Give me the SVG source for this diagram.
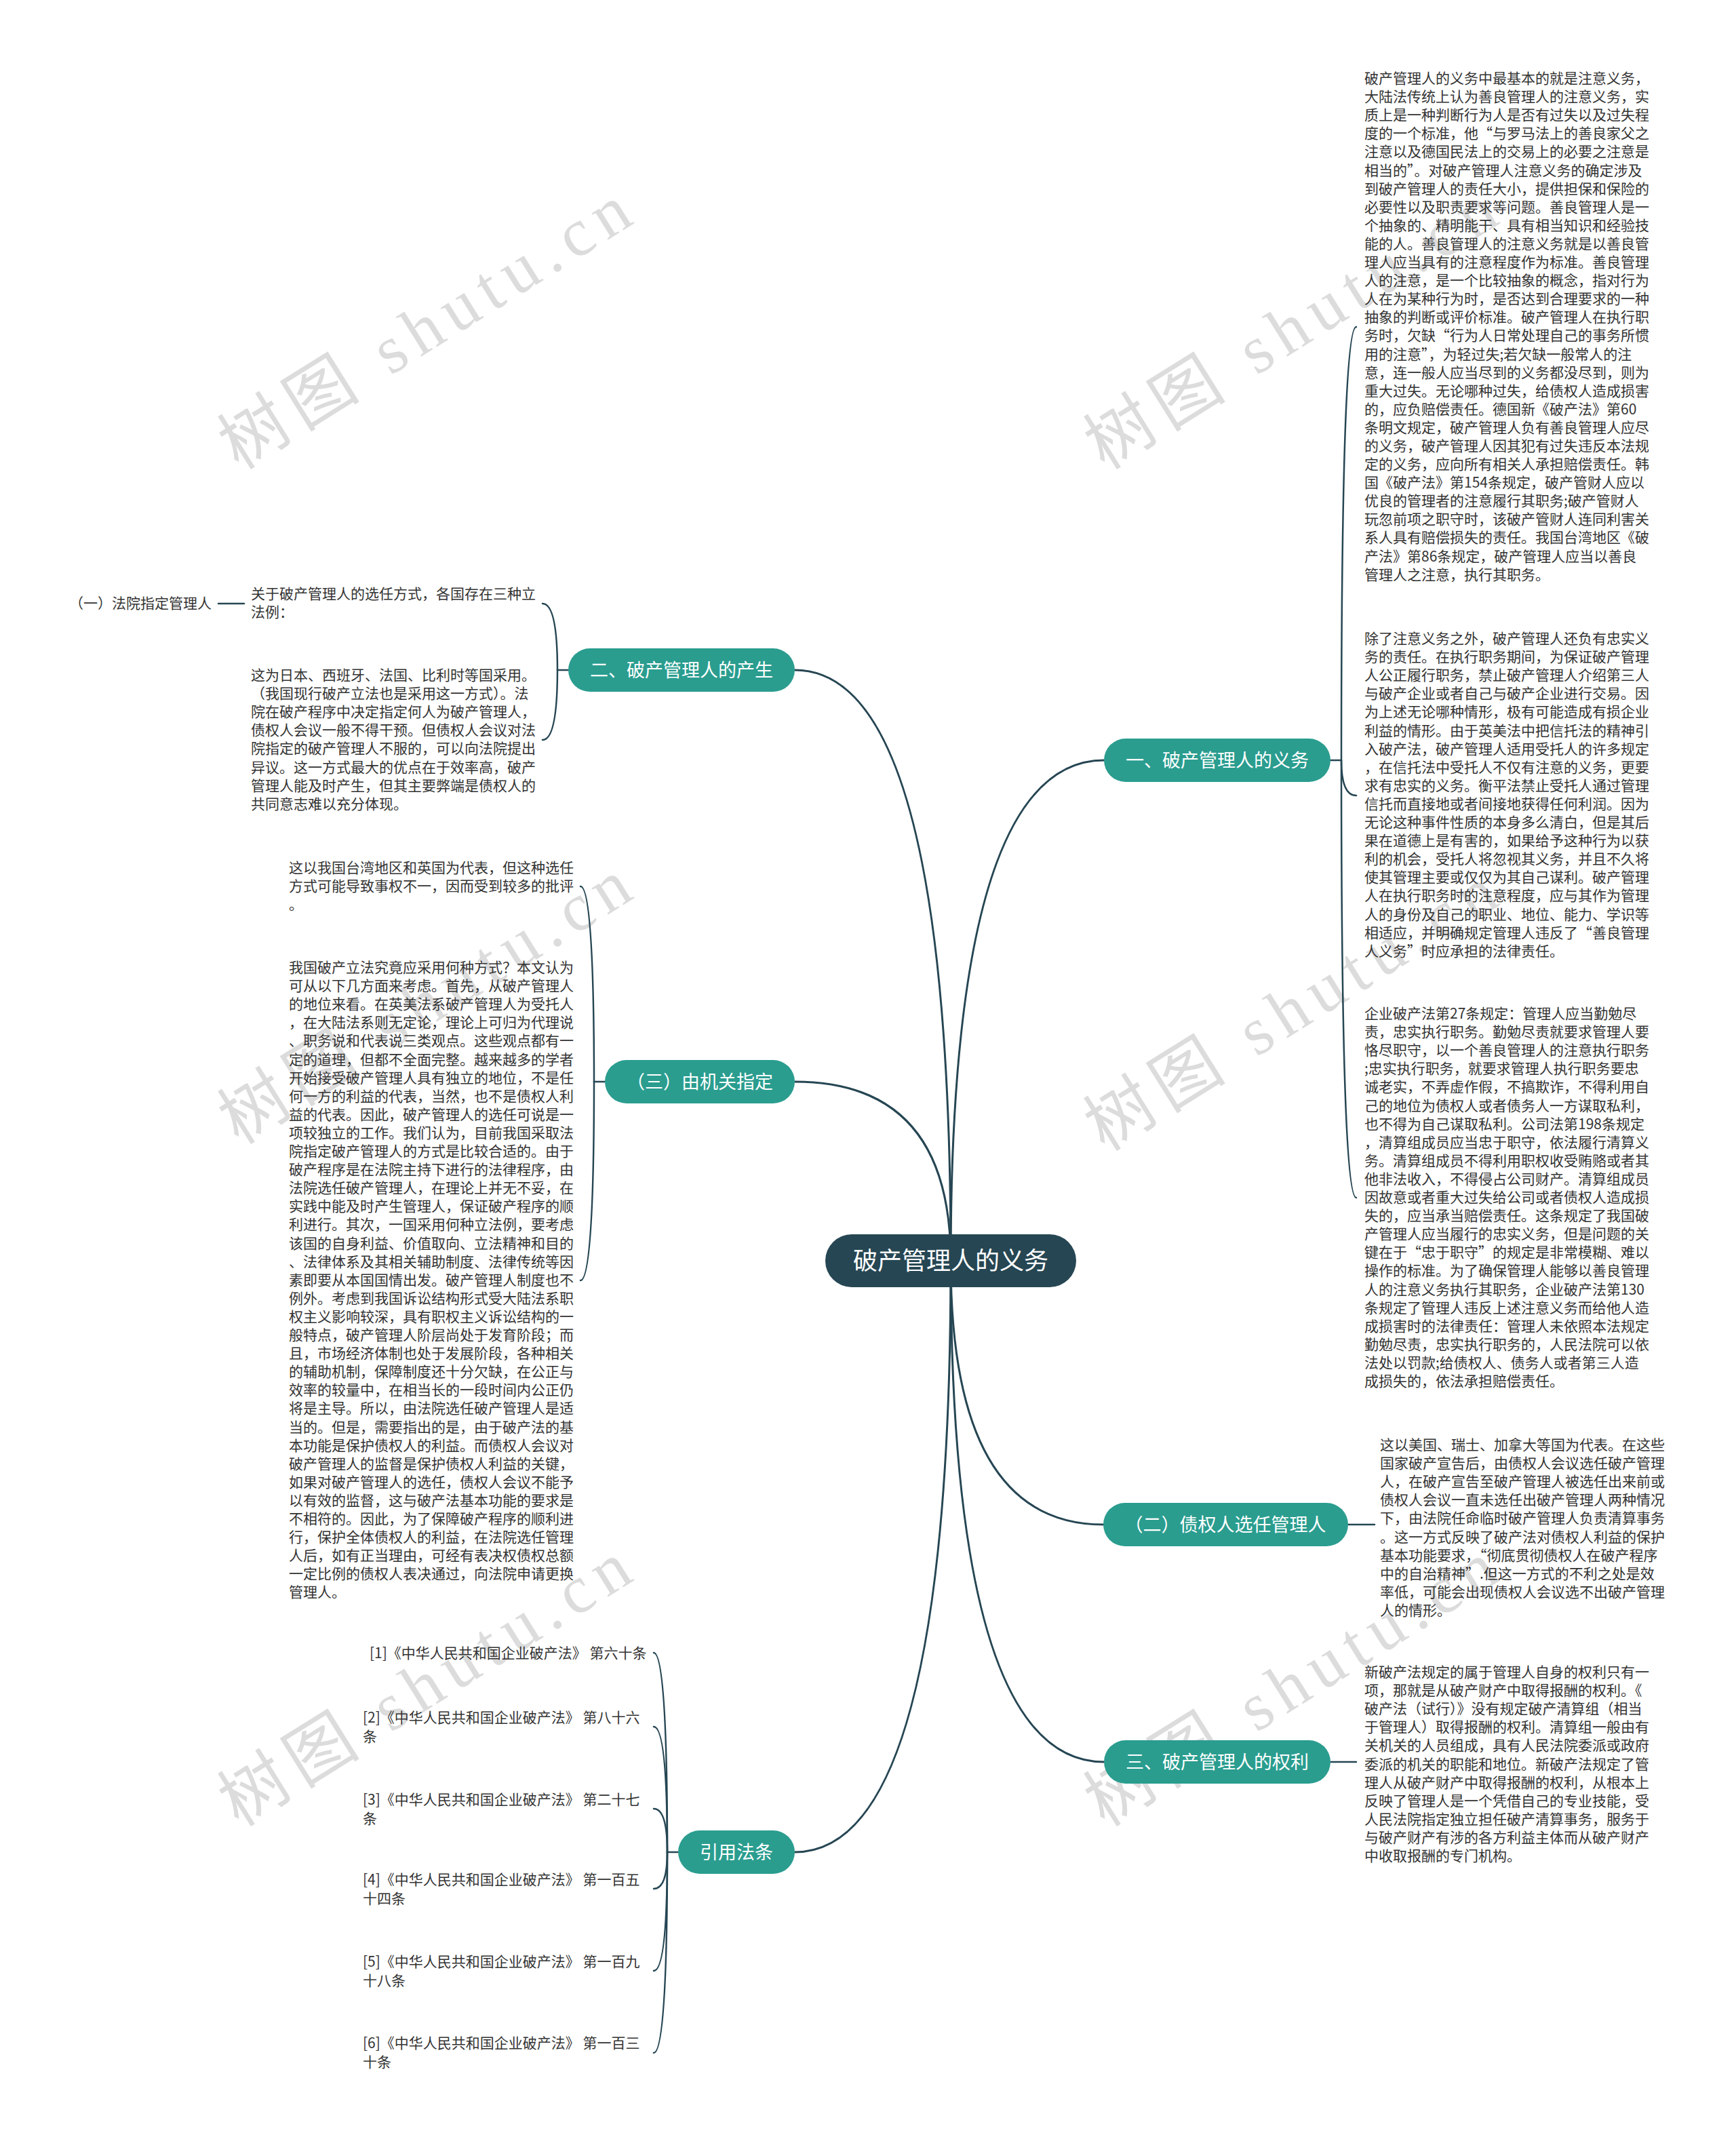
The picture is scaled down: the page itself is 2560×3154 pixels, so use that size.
<svg xmlns="http://www.w3.org/2000/svg" width="2560" height="3154" viewBox="0 0 2560 3154">
<style>
.wm{font-family:"Liberation Serif","Noto Sans CJK SC",serif;font-size:100px;fill:#dcdcdc}
.t{font-family:"Noto Sans CJK SC","Noto Sans",sans-serif;font-size:21px;fill:#333}
.nb{fill:#2a9d8f}
.nt{font-family:"Noto Sans CJK SC","Noto Sans",sans-serif;font-size:27px;fill:#fff;text-anchor:middle}
.ct{font-family:"Noto Sans CJK SC","Noto Sans",sans-serif;font-size:36px;fill:#fff;text-anchor:middle}
.c{fill:none;stroke:#264653;stroke-width:3;stroke-linecap:round}
.b{fill:none;stroke:#264653;stroke-width:2.5;stroke-linecap:round}
</style>
<rect width="2560" height="3154" fill="#fff"/>
<g id="watermarks">
<text class="wm" transform="translate(352,694) rotate(-32)" textLength="690" lengthAdjust="spacing">树图 shutu.cn</text>
<text class="wm" transform="translate(1629,694) rotate(-32)" textLength="690" lengthAdjust="spacing">树图 shutu.cn</text>
<text class="wm" transform="translate(352,1689) rotate(-32)" textLength="690" lengthAdjust="spacing">树图 shutu.cn</text>
<text class="wm" transform="translate(1629,1699) rotate(-32)" textLength="690" lengthAdjust="spacing">树图 shutu.cn</text>
<text class="wm" transform="translate(352,2695) rotate(-32)" textLength="690" lengthAdjust="spacing">树图 shutu.cn</text>
<text class="wm" transform="translate(1629,2695) rotate(-32)" textLength="690" lengthAdjust="spacing">树图 shutu.cn</text>
</g>
<g id="connectors">
<path class="c" d="M1402,1859 Q1402,1121 1628,1121"/>
<path class="c" d="M1402,1859 Q1402,2248 1627,2248"/>
<path class="c" d="M1402,1859 Q1402,2598 1628,2598"/>
<path class="c" d="M1402,1859 Q1402,988 1172,988"/>
<path class="c" d="M1402,1859 Q1402,1595 1172,1595"/>
<path class="c" d="M1402,1859 Q1402,2731 1172,2731"/>
<path class="b" d="M1962,1121 L1978,1121"/>
<path class="b" d="M1978,1121 Q1978,482 2000,482"/>
<path class="b" d="M1978,1121 Q1978,1173 2000,1173"/>
<path class="b" d="M1978,1121 Q1978,1766 2000,1766"/>
<path class="b" d="M1988,2248 L2027,2248"/>
<path class="b" d="M1962,2598 L2000,2598"/>
<path class="b" d="M838,988 L822,988"/>
<path class="b" d="M822,988 Q822,890 800,890"/>
<path class="b" d="M822,988 Q822,1091 800,1091"/>
<path class="b" d="M360,890 L322,890"/>
<path class="b" d="M892,1595 L876,1595"/>
<path class="b" d="M876,1595 Q876,1307 856,1307"/>
<path class="b" d="M876,1595 Q876,1888 856,1888"/>
<path class="b" d="M1000,2731 L984,2731"/>
<path class="b" d="M984,2731 Q984,2437 964,2437"/>
<path class="b" d="M984,2731 Q984,2546 964,2546"/>
<path class="b" d="M984,2731 Q984,2667 964,2667"/>
<path class="b" d="M984,2731 Q984,2785 964,2785"/>
<path class="b" d="M984,2731 Q984,2906 964,2906"/>
<path class="b" d="M984,2731 Q984,3027 964,3027"/>
</g>
<g id="center">
<rect x="1217" y="1820" width="370" height="78" rx="39" fill="#264653"/>
<text class="ct" x="1402" y="1872">破产管理人的义务</text>
</g>
<g id="n1">
<rect class="nb" x="1628" y="1089" width="334" height="64" rx="32"/>
<text class="nt" x="1795" y="1131">一、破产管理人的义务</text>
</g>
<g id="n2">
<rect class="nb" x="1627" y="2216" width="361" height="64" rx="32"/>
<text class="nt" x="1807" y="2258">（二）债权人选任管理人</text>
</g>
<g id="n3">
<rect class="nb" x="1628" y="2566" width="334" height="64" rx="32"/>
<text class="nt" x="1795" y="2608">三、破产管理人的权利</text>
</g>
<g id="n4">
<rect class="nb" x="838" y="956" width="334" height="64" rx="32"/>
<text class="nt" x="1005" y="998">二、破产管理人的产生</text>
</g>
<g id="n5">
<rect class="nb" x="892" y="1563" width="280" height="64" rx="32"/>
<text class="nt" x="1032" y="1605">（三）由机关指定</text>
</g>
<g id="n6">
<rect class="nb" x="1000" y="2699" width="172" height="64" rx="32"/>
<text class="nt" x="1086" y="2741">引用法条</text>
</g>
<g id="r1">
<text class="t" x="2012" y="123"><tspan x="2012">破产管理人的义务中最基本的就是注意义务，</tspan><tspan x="2012" dy="27.1">大陆法传统上认为善良管理人的注意义务，实</tspan><tspan x="2012" dy="27.1">质上是一种判断行为人是否有过失以及过失程</tspan><tspan x="2012" dy="27.1">度的一个标准，他“与罗马法上的善良家父之</tspan><tspan x="2012" dy="27.1">注意以及德国民法上的交易上的必要之注意是</tspan><tspan x="2012" dy="27.1">相当的”。对破产管理人注意义务的确定涉及</tspan><tspan x="2012" dy="27.1">到破产管理人的责任大小，提供担保和保险的</tspan><tspan x="2012" dy="27.1">必要性以及职责要求等问题。善良管理人是一</tspan><tspan x="2012" dy="27.1">个抽象的、精明能干、具有相当知识和经验技</tspan><tspan x="2012" dy="27.1">能的人。善良管理人的注意义务就是以善良管</tspan><tspan x="2012" dy="27.1">理人应当具有的注意程度作为标准。善良管理</tspan><tspan x="2012" dy="27.1">人的注意，是一个比较抽象的概念，指对行为</tspan><tspan x="2012" dy="27.1">人在为某种行为时，是否达到合理要求的一种</tspan><tspan x="2012" dy="27.1">抽象的判断或评价标准。破产管理人在执行职</tspan><tspan x="2012" dy="27.1">务时，欠缺“行为人日常处理自己的事务所惯</tspan><tspan x="2012" dy="27.1">用的注意”，为轻过失;若欠缺一般常人的注</tspan><tspan x="2012" dy="27.1">意，连一般人应当尽到的义务都没尽到，则为</tspan><tspan x="2012" dy="27.1">重大过失。无论哪种过失，给债权人造成损害</tspan><tspan x="2012" dy="27.1">的，应负赔偿责任。德国新《破产法》第60</tspan><tspan x="2012" dy="27.1">条明文规定，破产管理人负有善良管理人应尽</tspan><tspan x="2012" dy="27.1">的义务，破产管理人因其犯有过失违反本法规</tspan><tspan x="2012" dy="27.1">定的义务，应向所有相关人承担赔偿责任。韩</tspan><tspan x="2012" dy="27.1">国《破产法》第154条规定，破产管财人应以</tspan><tspan x="2012" dy="27.1">优良的管理者的注意履行其职务;破产管财人</tspan><tspan x="2012" dy="27.1">玩忽前项之职守时，该破产管财人连同利害关</tspan><tspan x="2012" dy="27.1">系人具有赔偿损失的责任。我国台湾地区《破</tspan><tspan x="2012" dy="27.1">产法》第86条规定，破产管理人应当以善良</tspan><tspan x="2012" dy="27.1">管理人之注意，执行其职务。</tspan></text>
</g>
<g id="r2">
<text class="t" x="2012" y="949"><tspan x="2012">除了注意义务之外，破产管理人还负有忠实义</tspan><tspan x="2012" dy="27.1">务的责任。在执行职务期间，为保证破产管理</tspan><tspan x="2012" dy="27.1">人公正履行职务，禁止破产管理人介绍第三人</tspan><tspan x="2012" dy="27.1">与破产企业或者自己与破产企业进行交易。因</tspan><tspan x="2012" dy="27.1">为上述无论哪种情形，极有可能造成有损企业</tspan><tspan x="2012" dy="27.1">利益的情形。由于英美法中把信托法的精神引</tspan><tspan x="2012" dy="27.1">入破产法，破产管理人适用受托人的许多规定</tspan><tspan x="2012" dy="27.1">，在信托法中受托人不仅有注意的义务，更要</tspan><tspan x="2012" dy="27.1">求有忠实的义务。衡平法禁止受托人通过管理</tspan><tspan x="2012" dy="27.1">信托而直接地或者间接地获得任何利润。因为</tspan><tspan x="2012" dy="27.1">无论这种事件性质的本身多么清白，但是其后</tspan><tspan x="2012" dy="27.1">果在道德上是有害的，如果给予这种行为以获</tspan><tspan x="2012" dy="27.1">利的机会，受托人将忽视其义务，并且不久将</tspan><tspan x="2012" dy="27.1">使其管理主要或仅仅为其自己谋利。破产管理</tspan><tspan x="2012" dy="27.1">人在执行职务时的注意程度，应与其作为管理</tspan><tspan x="2012" dy="27.1">人的身份及自己的职业、地位、能力、学识等</tspan><tspan x="2012" dy="27.1">相适应，并明确规定管理人违反了“善良管理</tspan><tspan x="2012" dy="27.1">人义务”时应承担的法律责任。</tspan></text>
</g>
<g id="r3">
<text class="t" x="2012" y="1502"><tspan x="2012">企业破产法第27条规定：管理人应当勤勉尽</tspan><tspan x="2012" dy="27.1">责，忠实执行职务。勤勉尽责就要求管理人要</tspan><tspan x="2012" dy="27.1">恪尽职守，以一个善良管理人的注意执行职务</tspan><tspan x="2012" dy="27.1">;忠实执行职务，就要求管理人执行职务要忠</tspan><tspan x="2012" dy="27.1">诚老实，不弄虚作假，不搞欺诈，不得利用自</tspan><tspan x="2012" dy="27.1">己的地位为债权人或者债务人一方谋取私利，</tspan><tspan x="2012" dy="27.1">也不得为自己谋取私利。公司法第198条规定</tspan><tspan x="2012" dy="27.1">，清算组成员应当忠于职守，依法履行清算义</tspan><tspan x="2012" dy="27.1">务。清算组成员不得利用职权收受贿赂或者其</tspan><tspan x="2012" dy="27.1">他非法收入，不得侵占公司财产。清算组成员</tspan><tspan x="2012" dy="27.1">因故意或者重大过失给公司或者债权人造成损</tspan><tspan x="2012" dy="27.1">失的，应当承当赔偿责任。这条规定了我国破</tspan><tspan x="2012" dy="27.1">产管理人应当履行的忠实义务，但是问题的关</tspan><tspan x="2012" dy="27.1">键在于“忠于职守”的规定是非常模糊、难以</tspan><tspan x="2012" dy="27.1">操作的标准。为了确保管理人能够以善良管理</tspan><tspan x="2012" dy="27.1">人的注意义务执行其职务，企业破产法第130</tspan><tspan x="2012" dy="27.1">条规定了管理人违反上述注意义务而给他人造</tspan><tspan x="2012" dy="27.1">成损害时的法律责任：管理人未依照本法规定</tspan><tspan x="2012" dy="27.1">勤勉尽责，忠实执行职务的，人民法院可以依</tspan><tspan x="2012" dy="27.1">法处以罚款;给债权人、债务人或者第三人造</tspan><tspan x="2012" dy="27.1">成损失的，依法承担赔偿责任。</tspan></text>
</g>
<g id="r4">
<text class="t" x="2035" y="2138"><tspan x="2035">这以美国、瑞士、加拿大等国为代表。在这些</tspan><tspan x="2035" dy="27.1">国家破产宣告后，由债权人会议选任破产管理</tspan><tspan x="2035" dy="27.1">人，在破产宣告至破产管理人被选任出来前或</tspan><tspan x="2035" dy="27.1">债权人会议一直未选任出破产管理人两种情况</tspan><tspan x="2035" dy="27.1">下，由法院任命临时破产管理人负责清算事务</tspan><tspan x="2035" dy="27.1">。这一方式反映了破产法对债权人利益的保护</tspan><tspan x="2035" dy="27.1">基本功能要求，“彻底贯彻债权人在破产程序</tspan><tspan x="2035" dy="27.1">中的自治精神”.但这一方式的不利之处是效</tspan><tspan x="2035" dy="27.1">率低，可能会出现债权人会议选不出破产管理</tspan><tspan x="2035" dy="27.1">人的情形。</tspan></text>
</g>
<g id="r5">
<text class="t" x="2012" y="2473"><tspan x="2012">新破产法规定的属于管理人自身的权利只有一</tspan><tspan x="2012" dy="27.1">项，那就是从破产财产中取得报酬的权利。《</tspan><tspan x="2012" dy="27.1">破产法（试行）》没有规定破产清算组（相当</tspan><tspan x="2012" dy="27.1">于管理人）取得报酬的权利。清算组一般由有</tspan><tspan x="2012" dy="27.1">关机关的人员组成，具有人民法院委派或政府</tspan><tspan x="2012" dy="27.1">委派的机关的职能和地位。新破产法规定了管</tspan><tspan x="2012" dy="27.1">理人从破产财产中取得报酬的权利，从根本上</tspan><tspan x="2012" dy="27.1">反映了管理人是一个凭借自己的专业技能，受</tspan><tspan x="2012" dy="27.1">人民法院指定独立担任破产清算事务，服务于</tspan><tspan x="2012" dy="27.1">与破产财产有涉的各方利益主体而从破产财产</tspan><tspan x="2012" dy="27.1">中收取报酬的专门机构。</tspan></text>
</g>
<g id="lA">
<text class="t" x="370" y="883"><tspan x="370">关于破产管理人的选任方式，各国存在三种立</tspan><tspan x="370" dy="27.1">法例：</tspan></text>
</g>
<g id="lA1">
<text class="t" x="312" y="897" text-anchor="end">（一）法院指定管理人</text>
</g>
<g id="lB">
<text class="t" x="370" y="1003"><tspan x="370">这为日本、西班牙、法国、比利时等国采用。</tspan><tspan x="370" dy="27.1">（我国现行破产立法也是采用这一方式）。法</tspan><tspan x="370" dy="27.1">院在破产程序中决定指定何人为破产管理人，</tspan><tspan x="370" dy="27.1">债权人会议一般不得干预。但债权人会议对法</tspan><tspan x="370" dy="27.1">院指定的破产管理人不服的，可以向法院提出</tspan><tspan x="370" dy="27.1">异议。这一方式最大的优点在于效率高，破产</tspan><tspan x="370" dy="27.1">管理人能及时产生，但其主要弊端是债权人的</tspan><tspan x="370" dy="27.1">共同意志难以充分体现。</tspan></text>
</g>
<g id="lC">
<text class="t" x="426" y="1287"><tspan x="426">这以我国台湾地区和英国为代表，但这种选任</tspan><tspan x="426" dy="27.1">方式可能导致事权不一，因而受到较多的批评</tspan><tspan x="426" dy="27.1">。</tspan></text>
</g>
<g id="lD">
<text class="t" x="426" y="1434"><tspan x="426">我国破产立法究竟应采用何种方式？本文认为</tspan><tspan x="426" dy="27.1">可从以下几方面来考虑。首先，从破产管理人</tspan><tspan x="426" dy="27.1">的地位来看。在英美法系破产管理人为受托人</tspan><tspan x="426" dy="27.1">，在大陆法系则无定论，理论上可归为代理说</tspan><tspan x="426" dy="27.1">、职务说和代表说三类观点。这些观点都有一</tspan><tspan x="426" dy="27.1">定的道理，但都不全面完整。越来越多的学者</tspan><tspan x="426" dy="27.1">开始接受破产管理人具有独立的地位，不是任</tspan><tspan x="426" dy="27.1">何一方的利益的代表，当然，也不是债权人利</tspan><tspan x="426" dy="27.1">益的代表。因此，破产管理人的选任可说是一</tspan><tspan x="426" dy="27.1">项较独立的工作。我们认为，目前我国采取法</tspan><tspan x="426" dy="27.1">院指定破产管理人的方式是比较合适的。由于</tspan><tspan x="426" dy="27.1">破产程序是在法院主持下进行的法律程序，由</tspan><tspan x="426" dy="27.1">法院选任破产管理人，在理论上并无不妥，在</tspan><tspan x="426" dy="27.1">实践中能及时产生管理人，保证破产程序的顺</tspan><tspan x="426" dy="27.1">利进行。其次，一国采用何种立法例，要考虑</tspan><tspan x="426" dy="27.1">该国的自身利益、价值取向、立法精神和目的</tspan><tspan x="426" dy="27.1">、法律体系及其相关辅助制度、法律传统等因</tspan><tspan x="426" dy="27.1">素即要从本国国情出发。破产管理人制度也不</tspan><tspan x="426" dy="27.1">例外。考虑到我国诉讼结构形式受大陆法系职</tspan><tspan x="426" dy="27.1">权主义影响较深，具有职权主义诉讼结构的一</tspan><tspan x="426" dy="27.1">般特点，破产管理人阶层尚处于发育阶段；而</tspan><tspan x="426" dy="27.1">且，市场经济体制也处于发展阶段，各种相关</tspan><tspan x="426" dy="27.1">的辅助机制，保障制度还十分欠缺，在公正与</tspan><tspan x="426" dy="27.1">效率的较量中，在相当长的一段时间内公正仍</tspan><tspan x="426" dy="27.1">将是主导。所以，由法院选任破产管理人是适</tspan><tspan x="426" dy="27.1">当的。但是，需要指出的是，由于破产法的基</tspan><tspan x="426" dy="27.1">本功能是保护债权人的利益。而债权人会议对</tspan><tspan x="426" dy="27.1">破产管理人的监督是保护债权人利益的关键，</tspan><tspan x="426" dy="27.1">如果对破产管理人的选任，债权人会议不能予</tspan><tspan x="426" dy="27.1">以有效的监督，这与破产法基本功能的要求是</tspan><tspan x="426" dy="27.1">不相符的。因此，为了保障破产程序的顺利进</tspan><tspan x="426" dy="27.1">行，保护全体债权人的利益，在法院选任管理</tspan><tspan x="426" dy="27.1">人后，如有正当理由，可经有表决权债权总额</tspan><tspan x="426" dy="27.1">一定比例的债权人表决通过，向法院申请更换</tspan><tspan x="426" dy="27.1">管理人。</tspan></text>
</g>
<g id="cite1"><text class="t" x="545" y="2445">[1]《中华人民共和国企业破产法》 第六十条</text></g>
<g id="cite2"><text class="t" x="535" y="2540"><tspan x="535">[2]《中华人民共和国企业破产法》 第八十六</tspan><tspan x="535" dy="28">条</tspan></text></g>
<g id="cite3"><text class="t" x="535" y="2661"><tspan x="535">[3]《中华人民共和国企业破产法》 第二十七</tspan><tspan x="535" dy="28">条</tspan></text></g>
<g id="cite4"><text class="t" x="535" y="2779"><tspan x="535">[4]《中华人民共和国企业破产法》 第一百五</tspan><tspan x="535" dy="28">十四条</tspan></text></g>
<g id="cite5"><text class="t" x="535" y="2900"><tspan x="535">[5]《中华人民共和国企业破产法》 第一百九</tspan><tspan x="535" dy="28">十八条</tspan></text></g>
<g id="cite6"><text class="t" x="535" y="3020"><tspan x="535">[6]《中华人民共和国企业破产法》 第一百三</tspan><tspan x="535" dy="28">十条</tspan></text></g>
</svg>
